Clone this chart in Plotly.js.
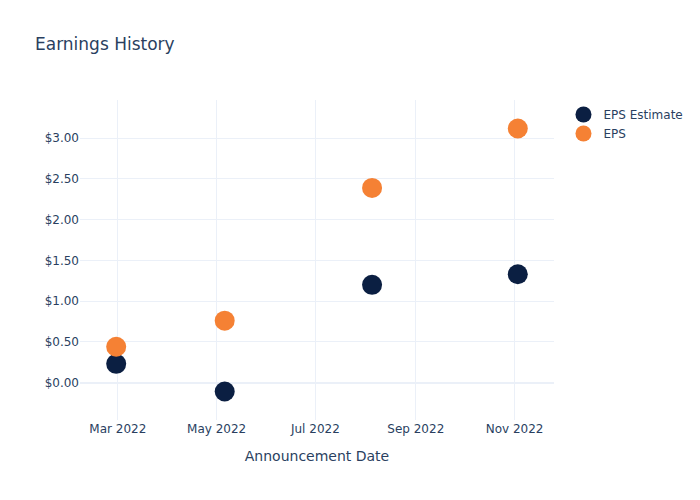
<!DOCTYPE html>
<html>
<head>
<meta charset="utf-8">
<script src="https://cdn.plot.ly/plotly-3.0.1.min.js"></script>
<style>html,body{margin:0;padding:0;}#chart{width:700px;height:500px;}</style>
</head>
<body>
<div id="chart"></div>
<script>
const dates = ['2022-02-28', '2022-05-06', '2022-08-05', '2022-11-03'];
const epsEstimate = [0.23, -0.11, 1.20, 1.33];
const eps = [0.44, 0.76, 2.39, 3.12];

const traces = [
  {x: dates, y: epsEstimate, name: 'EPS Estimate', mode: 'markers', type: 'scatter',
   marker: {color: '#0b1f42', size: 20}},
  {x: dates, y: eps, name: 'EPS', mode: 'markers', type: 'scatter',
   marker: {color: '#f58134', size: 20}}
];

const layout = {
  width: 700, height: 500,
  template: 'plotly_white',
  paper_bgcolor: 'white', plot_bgcolor: 'white',
  font: {family: '"DejaVu Sans", verdana, arial, sans-serif', color: '#2a3f5f', size: 12},
  title: {text: 'Earnings History', x: 0.05, font: {size: 17}},
  xaxis: {title: {text: 'Announcement Date', font: {size: 14}, standoff: 16}, automargin: true, gridcolor: '#EBF0F8', dtick: 'M2', tickformat: '%b %Y', zeroline: false},
  yaxis: {tickprefix: '$', tickformat: '.2f', gridcolor: '#EBF0F8', zerolinecolor: '#EBF0F8', zerolinewidth: 2},
  legend: {x: 1.02, y: 1}
};

Plotly.newPlot('chart', traces, layout, {displayModeBar: false});
</script>
</body>
</html>
